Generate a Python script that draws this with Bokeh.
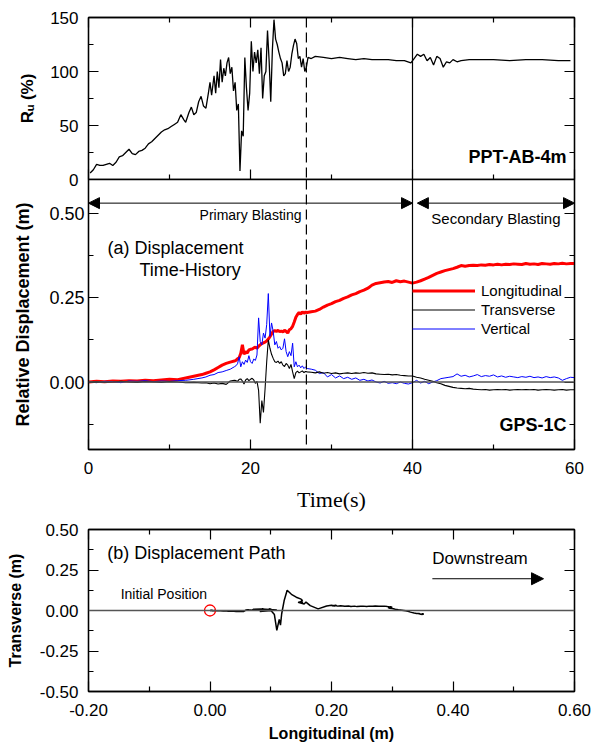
from bokeh.plotting import figure
from bokeh.layouts import column
from bokeh.models import (LinearAxis, FixedTicker, NumeralTickFormatter, Span, Label,
                          Arrow, NormalHead, Legend, LegendItem, Range1d)
from bokeh.embed import file_html
from bokeh.resources import INLINE

FONT = "Liberation Sans"
SERIF = "Liberation Serif"

# ---------------- data ----------------
# Pore pressure ratio PPT-AB-4m
ru_t = [0.2, 0.6, 1.0, 1.4, 1.8, 2.2, 2.6, 3.0, 3.4, 3.8, 4.2, 4.6, 5.0, 5.4, 5.8, 6.2, 6.6, 7.0,
        7.4, 7.8, 8.2, 8.6, 9.0, 9.4, 9.8, 10.2, 10.6, 11.0, 11.4, 11.8, 12.0, 12.4, 12.7, 13.0,
        13.3, 13.6, 13.9, 14.2, 14.5, 14.8, 15.0, 15.2, 15.5, 15.7, 15.9, 16.1, 16.3, 16.5, 16.7,
        16.9, 17.1, 17.3, 17.5, 17.7, 17.9, 18.1, 18.3, 18.5, 18.7, 18.9, 19.1, 19.3, 19.5, 19.7,
        19.9, 20.1, 20.3, 20.5, 20.7, 20.9, 21.1, 21.3, 21.5, 21.7, 21.9, 22.1, 22.3, 22.5, 22.7,
        22.9, 23.1, 23.3, 23.5, 23.7, 23.9, 24.1, 24.3, 24.5, 24.7, 24.9, 25.1, 25.3, 25.5, 25.7,
        25.9, 26.1, 26.3, 26.5, 26.7, 26.9, 27.1, 27.5, 28, 29, 30, 31, 32, 33, 34, 35, 36, 37,
        38, 39, 39.8, 40.2, 40.6, 41.0, 41.4, 41.8, 42.2, 42.6, 43.0, 43.4, 43.8, 44.2, 44.6,
        45.0, 45.5, 46, 47, 48, 50, 52, 54, 56, 58, 59.5]
ru_v = [6, 9, 14, 13, 13, 14, 15, 13, 16, 21, 22, 25, 28, 24, 23, 26, 27, 29,
        33, 35, 38, 41, 44, 46, 47, 49, 51, 53, 60, 55, 53, 62, 67, 60,
        62, 72, 77, 68, 66, 80, 90, 78, 96, 80, 100, 85, 111, 90, 103,
        96, 108, 113, 98, 104, 82, 90, 64, 70, 8, 45, 40, 113, 85, 64,
        80, 128, 100, 118, 108, 120, 98, 122, 75, 96, 100, 138, 110, 72, 120,
        148, 130, 125, 118, 112, 108, 96, 98, 110, 100, 104, 116, 124, 130, 126,
        112, 114, 104, 112, 100, 104, 113, 112, 114, 113, 112, 113, 112, 111, 112, 111, 111, 111,
        110, 110, 108, 112, 116, 114, 116, 110, 113, 106, 114, 112, 104, 109, 108,
        111, 109, 110, 111, 111, 111, 110, 111, 111, 110, 110]

# GPS-1C relative displacement (m)
disp_t = [0, 1, 2, 3, 4, 5, 6, 7, 8, 9, 10, 11, 12, 13, 14,
          14.5, 15, 15.5, 16, 16.5, 17, 17.5, 18,
          18.2, 18.4, 18.6, 18.8, 19.0, 19.2, 19.4, 19.6, 19.8, 20.0, 20.2, 20.4, 20.6, 20.8,
          21.0, 21.2, 21.4, 21.6, 21.8, 22.0, 22.2, 22.4, 22.6, 22.8, 23.0, 23.2, 23.4, 23.6,
          23.8, 24.0, 24.2, 24.4, 24.6, 24.8, 25.0, 25.2, 25.4, 25.6, 25.8, 26.0, 26.2, 26.4,
          26.6, 26.8, 27.0,
          27.5, 28, 28.5, 29, 29.5, 30, 30.5, 31, 31.5, 32, 32.5, 33, 33.5, 34, 34.5, 35, 35.5,
          36, 36.5, 37, 37.5, 38, 38.5, 39, 39.5, 40, 40.5, 41, 41.5, 42, 42.5, 43, 43.5, 44,
          44.5, 45, 45.5, 46, 46.5, 47, 47.5, 48, 48.5, 49, 49.5, 50, 50.5, 51, 51.5, 52, 52.5,
          53, 53.5, 54, 54.5, 55, 55.5, 56, 56.5, 57, 57.5, 58, 58.5, 59, 59.5, 60]
long_d = [0.000, 0.002, 0.001, 0.003, 0.002, 0.004, 0.003, 0.005, 0.004, 0.006, 0.008, 0.007, 0.012, 0.017, 0.022,
          0.026, 0.030, 0.036, 0.043, 0.050, 0.055, 0.059, 0.062,
          0.064, 0.069, 0.072, 0.085, 0.110, 0.082, 0.090, 0.086, 0.095, 0.097, 0.098, 0.101, 0.103, 0.100,
          0.106, 0.110, 0.114, 0.116, 0.118, 0.122, 0.127, 0.134, 0.142, 0.150, 0.152, 0.150, 0.153, 0.149,
          0.151, 0.148, 0.153, 0.150, 0.145, 0.155, 0.158, 0.165, 0.178, 0.192, 0.200, 0.206, 0.201, 0.208,
          0.204, 0.207, 0.206,
          0.208, 0.210, 0.215, 0.222, 0.228, 0.232, 0.238, 0.242, 0.248, 0.252, 0.258, 0.262, 0.268, 0.272, 0.278, 0.287, 0.292,
          0.294, 0.296, 0.298, 0.295, 0.300, 0.297, 0.299, 0.296, 0.293, 0.296, 0.300, 0.305, 0.310, 0.316, 0.322, 0.326, 0.330,
          0.333, 0.336, 0.340, 0.345, 0.343, 0.345, 0.346, 0.345, 0.347, 0.346, 0.348, 0.347, 0.349, 0.347, 0.349, 0.348, 0.350,
          0.349, 0.348, 0.351, 0.349, 0.350, 0.348, 0.351, 0.350, 0.349, 0.351, 0.350, 0.352, 0.350, 0.351, 0.351]
trans_d = [0.000, 0.001, -0.001, 0.000, 0.002, 0.000, -0.001, 0.001, 0.000, -0.001, 0.001, 0.000, -0.002, -0.001, -0.003,
           -0.002, -0.005, -0.003, -0.006, -0.004, -0.007, 0.003, 0.005,
           0.004, 0.002, 0.008, 0.009, 0.003, -0.006, 0.006, 0.010, 0.004, 0.008, 0.011, 0.006, -0.004, 0.002,
           -0.025, -0.122, -0.055, -0.090, -0.020, 0.060, 0.125, 0.100, 0.082, 0.070, 0.060, 0.058, 0.062, 0.055,
           0.060, 0.050, 0.046, 0.055, 0.050, 0.040, 0.052, 0.030, 0.010, 0.028, 0.032, 0.027, 0.030, 0.033,
           0.028, 0.031, 0.030,
           0.029, 0.027, 0.030, 0.026, 0.028, 0.025, 0.027, 0.024, 0.026, 0.027, 0.025, 0.027, 0.026, 0.028, 0.026, 0.027, 0.024,
           0.023, 0.022, 0.023, 0.021, 0.022, 0.020, 0.019, 0.018, 0.018, 0.014, 0.012, 0.008, 0.005, 0.002, -0.002, -0.005, -0.010,
           -0.013, -0.016, -0.018, -0.019, -0.020, -0.019, -0.021, -0.022, -0.023, -0.022, -0.024, -0.023, -0.022, -0.023, -0.022, -0.024, -0.023,
           -0.022, -0.023, -0.022, -0.023, -0.022, -0.024, -0.023, -0.022, -0.023, -0.024, -0.023, -0.022, -0.024, -0.023, -0.023]
vert_d = [0.000, -0.002, 0.002, 0.001, -0.002, 0.003, 0.002, 0.004, 0.001, 0.003, 0.002, 0.004, 0.005, 0.008, 0.012,
          0.015, 0.020, 0.022, 0.028, 0.030, 0.034, 0.038, 0.045,
          0.048, 0.054, 0.075, 0.045, 0.060, 0.052, 0.065, 0.058, 0.078, 0.060, 0.055, 0.068, 0.064, 0.080,
          0.190, 0.120, 0.110, 0.145, 0.130, 0.170, 0.262, 0.135, 0.175, 0.150, 0.110, 0.120, 0.100, 0.105,
          0.095, 0.100, 0.128, 0.090, 0.075, 0.090, 0.078, 0.115, 0.045, 0.060, 0.045, 0.050, 0.042, 0.048,
          0.040, 0.045, 0.040,
          0.038, 0.035, 0.025, 0.028, 0.015, 0.022, 0.012, 0.018, 0.010, 0.014, 0.008, 0.012, 0.005, 0.008, 0.003, 0.006, 0.000,
          -0.003, 0.002, -0.004, -0.002, -0.005, 0.000, -0.004, -0.006, -0.002, 0.005, -0.003, 0.002, -0.005, 0.000, 0.004, 0.010, 0.012,
          0.014, 0.016, 0.024, 0.017, 0.020, 0.015, 0.018, 0.022, 0.016, 0.019, 0.017, 0.021, 0.015, 0.018, 0.014, 0.017, 0.015,
          0.013, 0.016, 0.014, 0.017, 0.013, 0.015, 0.012, 0.016, 0.013, 0.015, 0.012, 0.005, 0.010, 0.014, 0.013]

time_ticks = [0, 20, 40, 60]
time_minor = [10, 30, 50]
ru_ticks = [0, 50, 100, 150]
ru_minor = [25, 75, 125]
disp_ticks = [0.0, 0.25, 0.5]
disp_minor = [-0.125, 0.125, 0.375]
path_x_ticks = [-0.2, 0.0, 0.2, 0.4, 0.6]
path_x_minor = [-0.1, 0.1, 0.3, 0.5]
path_y_ticks = [-0.5, -0.25, 0.0, 0.25, 0.5]
path_y_minor = [-0.375, -0.125, 0.125, 0.375]

primary_end = 40.0
secondary_start = 40.6
time_end = 60.0
dashed_t = 26.9
blast_arrow_y = 0.53


def style_axis(ax, show_labels=True, size="17px"):
    ax.major_tick_in = 10
    ax.major_tick_out = 0
    ax.minor_tick_in = 5
    ax.minor_tick_out = 0
    ax.axis_line_color = "black"
    ax.axis_line_width = 1.3
    ax.major_tick_line_color = "black"
    ax.minor_tick_line_color = "black"
    ax.major_tick_line_width = 1.2
    ax.minor_tick_line_width = 1.2
    ax.major_label_text_font = FONT
    ax.major_label_text_color = "black"
    ax.axis_label_text_font = FONT
    ax.axis_label_text_color = "black"
    ax.axis_label_text_font_style = "bold"
    if show_labels:
        ax.major_label_text_font_size = size
    else:
        ax.major_label_text_font_size = "1px"
        ax.major_label_text_color = None
        ax.major_label_standoff = 0
        ax.axis_label = None


def mirror(p, ticker, where):
    ax = LinearAxis(ticker=ticker)
    style_axis(ax, show_labels=False)
    p.add_layout(ax, where)


def base_fig(xr, yr, fh, top, bottom):
    p = figure(frame_width=486, frame_height=fh, x_range=xr, y_range=yr,
               min_border_left=88, min_border_right=19, min_border_top=top,
               min_border_bottom=bottom, output_backend="svg", toolbar_location=None)
    p.xgrid.visible = False
    p.ygrid.visible = False
    p.outline_line_color = "black"
    p.outline_line_width = 1.3
    p.background_fill_color = "white"
    p.border_fill_color = "white"
    return p


def txt(x, y, text, size, **kw):
    return Label(x=x, y=y, text=text, text_font=FONT, text_font_size=size,
                 text_color="black", text_baseline="middle", **kw)


# ---------------- top panel: Ru ----------------
t_ticker = FixedTicker(ticks=time_ticks, minor_ticks=time_minor)
ru_ticker = FixedTicker(ticks=ru_ticks, minor_ticks=ru_minor)
p1 = base_fig(Range1d(0, 60), Range1d(0, 150), 162, 17, 12)
p1.xaxis.ticker = t_ticker
p1.yaxis.ticker = ru_ticker
style_axis(p1.xaxis[0], show_labels=False)
style_axis(p1.yaxis[0], size="17px")
p1.yaxis.axis_label = "Rᵤ (%)"
p1.yaxis.axis_label_text_font_size = "17px"
p1.yaxis.major_label_standoff = 10
p1.yaxis.axis_label_standoff = 10
mirror(p1, t_ticker, "above")
mirror(p1, ru_ticker, "right")
p1.line(ru_t, ru_v, color="black", line_width=1.3)
p1.add_layout(Span(location=dashed_t, dimension="height", line_color="black",
                   line_dash="10 5", line_width=1.2))
p1.add_layout(Span(location=primary_end, dimension="height", line_color="black", line_width=1.2))
p1.add_layout(txt(59.0, 20.4, "PPT-AB-4m", "18px", text_font_style="bold", text_align="right"))

# ---------------- middle panel: displacement time history ----------------
d_ticker = FixedTicker(ticks=disp_ticks, minor_ticks=disp_minor)
p2 = base_fig(p1.x_range, Range1d(-0.2, 0.6), 270, 0, 70)
p2.border_fill_alpha = 0
p2.margin = (-12, 0, 0, 0)
p2.xaxis.ticker = t_ticker
p2.yaxis.ticker = d_ticker
style_axis(p2.xaxis[0], size="17px")
style_axis(p2.yaxis[0], size="18px")
p2.yaxis.formatter = NumeralTickFormatter(format="0.00")
p2.yaxis.axis_label = "Relative Displacement (m)"
p2.yaxis.axis_label_text_font_size = "18px"
p2.yaxis.major_label_standoff = 4
p2.yaxis.axis_label_standoff = 13
p2.xaxis.axis_label = "Time(s)"
p2.xaxis.axis_label_text_font = SERIF
p2.xaxis.axis_label_text_font_style = "normal"
p2.xaxis.axis_label_text_font_size = "22px"
p2.xaxis.major_label_standoff = 12
p2.xaxis.axis_label_standoff = 10
mirror(p2, d_ticker, "right")

p2.add_layout(Span(location=0, dimension="width", line_color="#555555", line_width=1.5))
r_long = p2.line(disp_t, long_d, color="#ff0000", line_width=3)
r_vert = p2.line(disp_t, vert_d, color="#0000ff", line_width=1)
r_trans = p2.line(disp_t, trans_d, color="black", line_width=1.1)
p2.add_layout(Span(location=dashed_t, dimension="height", line_color="black",
                   line_dash="10 5", line_width=1.2))
p2.add_layout(Span(location=primary_end, dimension="height", line_color="black", line_width=1.2))


def head():
    return NormalHead(size=11, fill_color="black", line_color="black")


p2.add_layout(Arrow(start=head(), end=head(), x_start=0, y_start=blast_arrow_y,
                    x_end=primary_end, y_end=blast_arrow_y, line_color="black", line_width=1))
p2.add_layout(Arrow(start=head(), end=head(), x_start=secondary_start, y_start=blast_arrow_y,
                    x_end=time_end, y_end=blast_arrow_y, line_color="black", line_width=1))
p2.add_layout(txt(20.0, 0.496, "Primary Blasting", "14px", text_align="center"))
p2.add_layout(txt(50.3, 0.485, "Secondary Blasting", "15px", text_align="center"))
p2.add_layout(txt(2.35, 0.396, "(a)  Displacement", "18px"))
p2.add_layout(txt(6.3, 0.331, "Time-History", "18px"))
p2.add_layout(txt(59.0, -0.127, "GPS-1C", "18px", text_font_style="bold", text_align="right"))

legend = Legend(items=[LegendItem(label="Longitudinal", renderers=[r_long]),
                       LegendItem(label="Transverse", renderers=[r_trans]),
                       LegendItem(label="Vertical", renderers=[r_vert])],
                location=(324, 111), background_fill_alpha=0, border_line_alpha=0,
                padding=0, margin=0, spacing=0, glyph_width=63, glyph_height=19,
                label_height=19, label_standoff=6, label_text_font=FONT,
                label_text_font_size="15px", label_text_color="black")
p2.add_layout(legend)

# ---------------- bottom panel: displacement path ----------------
px_ticker = FixedTicker(ticks=path_x_ticks, minor_ticks=path_x_minor)
py_ticker = FixedTicker(ticks=path_y_ticks, minor_ticks=path_y_minor)
p3 = base_fig(Range1d(-0.2, 0.6), Range1d(-0.5, 0.5), 162, 10, 58)
p3.xaxis.ticker = px_ticker
p3.yaxis.ticker = py_ticker
style_axis(p3.xaxis[0], size="17px")
style_axis(p3.yaxis[0], size="17px")
p3.xaxis.formatter = NumeralTickFormatter(format="0.00")
p3.yaxis.formatter = NumeralTickFormatter(format="0.00")
p3.xaxis.axis_label = "Longitudinal (m)"
p3.xaxis.axis_label_text_font_size = "16px"
p3.xaxis.major_label_standoff = 12
p3.xaxis.axis_label_standoff = 6
p3.yaxis.axis_label = "Transverse (m)"
p3.yaxis.axis_label_text_font_size = "16px"
p3.yaxis.major_label_standoff = 10
p3.yaxis.axis_label_standoff = 13
mirror(p3, px_ticker, "above")
mirror(p3, py_ticker, "right")

p3.add_layout(Span(location=0, dimension="width", line_color="#555555", line_width=1.5))
p3.line(long_d, trans_d, color="black", line_width=1.5)
p3.scatter([long_d[0]], [trans_d[0]], marker="circle", size=11, fill_color=None,
           line_color="red", line_width=1.3)
p3.add_layout(txt(-0.169, 0.358, "(b)  Displacement Path", "18px"))
p3.add_layout(txt(-0.147, 0.099, "Initial Position", "14px"))
p3.add_layout(txt(0.366, 0.321, "Downstream", "17px"))
p3.add_layout(Arrow(end=NormalHead(size=12, fill_color="black", line_color="black"),
                    x_start=0.366, y_start=0.196, x_end=0.549, y_end=0.196,
                    line_color="black", line_width=1))

layout = column(p1, p2, p3, spacing=0)
open("out.html", "w").write(file_html(layout, INLINE))
